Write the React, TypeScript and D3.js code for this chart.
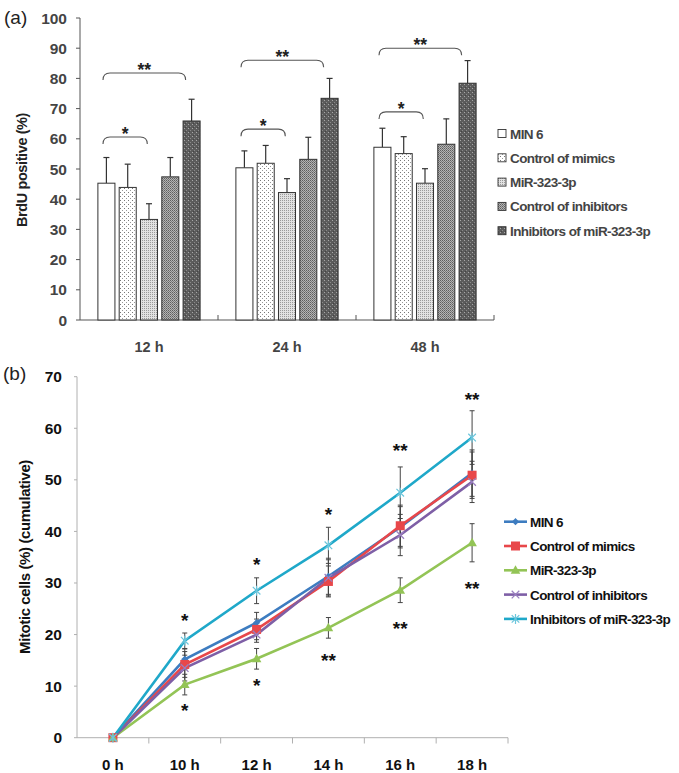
import React from 'react';
import * as d3 from 'd3';

// ---------- Panel (a) data ----------
const groupsA = ['12 h', '24 h', '48 h'];
const seriesA = ['MIN 6', 'Control of mimics', 'MiR-323-3p', 'Control of inhibitors', 'Inhibitors of miR-323-3p'];
const meansA12 = [45.3, 43.9, 33.3, 47.4, 65.9];
const meansA24 = [50.4, 51.9, 42.2, 53.2, 73.4];
const meansA48 = [57.2, 55.1, 45.3, 58.2, 78.4];
const errA12 = [8.5, 7.7, 5.2, 6.4, 7.2];
const errA24 = [5.6, 5.9, 4.6, 7.3, 6.6];
const errA48 = [6.3, 5.6, 4.8, 8.4, 7.5];
const yTicksA = [0, 10, 20, 30, 40, 50, 60, 70, 80, 90, 100];
const bracketGroups = [0, 0, 1, 1, 2, 2];
const bracketTo = [2, 4, 2, 4, 2, 4];
const bracketLevels = [60.6, 81.8, 63.2, 86, 68.9, 90];
const bracketLabels = ['*', '**', '*', '**', '*', '**'];

// ---------- Panel (b) data ----------
const timesB = ['0 h', '10 h', '12 h', '14 h', '16 h', '18 h'];
const seriesB = ['MIN 6', 'Control of mimics', 'MiR-323-3p', 'Control of inhibitors', 'Inhibitors of miR-323-3p'];
const min6B = [0, 15.2, 22.3, 31.3, 40.8, 51.3];
const mimicsB = [0, 14.2, 21.0, 30.3, 41.1, 50.9];
const mirB = [0, 10.3, 15.3, 21.3, 28.6, 37.8];
const ctrlInhB = [0, 13.5, 20.0, 31.0, 39.3, 49.6];
const inhB = [0, 18.8, 28.5, 37.3, 47.5, 58.2];
const min6ErrB = [0, 2, 2, 3.5, 4, 4.5];
const mimicsErrB = [0, 2.5, 2, 3, 4, 4.5];
const mirErrB = [0, 2, 2, 2, 2.4, 3.7];
const ctrlInhErrB = [0, 2.5, 1.5, 3.5, 4, 4];
const inhErrB = [0, 1.5, 2.5, 3.5, 5, 5.2];
const yTicksB = [0, 10, 20, 30, 40, 50, 60, 70];
const starsAboveVal = [null, 23.5, 34.3, 44, 56.4, 66.3];
const starsAboveLab = ['', '*', '*', '*', '**', '**'];
const starsBelowVal = [null, 6, 10.9, 15.8, 22, 29.7];
const starsBelowLab = ['', '*', '*', '**', '**', '**'];

const colorsB = ['#3d7cc0', '#e8474a', '#93c456', '#7e5fa6', '#1fa8c9'];
const markersB = ['diamond', 'square', 'triangle', 'x', 'asterisk'];

const FONT = '"Liberation Sans", Arial, sans-serif';

function Marker({ type, x, y, color }: { type: string; x: number; y: number; color: string }) {
  if (type === 'diamond') {
    const s = 3.6;
    return <path d={`M${x},${y - s}L${x + s},${y}L${x},${y + s}L${x - s},${y}Z`} fill={color} />;
  }
  if (type === 'square') {
    return <rect x={x - 4.5} y={y - 4.5} width={9} height={9} fill={color} />;
  }
  if (type === 'triangle') {
    return <path d={`M${x},${y - 5}L${x + 4.8},${y + 3.5}L${x - 4.8},${y + 3.5}Z`} fill={color} />;
  }
  if (type === 'x') {
    const s = 3.8;
    return <path d={`M${x - s},${y - s}L${x + s},${y + s}M${x - s},${y + s}L${x + s},${y - s}`} stroke={color} strokeWidth={1.3} />;
  }
  const s = 3.8;
  return (
    <path d={`M${x - s},${y - s}L${x + s},${y + s}M${x - s},${y + s}L${x + s},${y - s}M${x},${y - 5}L${x},${y + 5}`} stroke={color} strokeWidth={1.2} />
  );
}

export default function App() {
  const meansA = [meansA12, meansA24, meansA48];
  const errA = [errA12, errA24, errA48];
  const xA = d3.scaleBand<string>().domain(groupsA).range([80, 494]).paddingInner(0).paddingOuter(0);
  const xAi = d3.scaleBand<string>().domain(seriesA).range([0, xA.bandwidth()]).paddingInner(0.2).paddingOuter(0.84);
  const yA = d3.scaleLinear().domain([0, 100]).range([320, 18]);
  const bw = xAi.bandwidth();
  const fillsA = ['#ffffff', 'url(#pDots)', 'url(#pLight)', 'url(#pMid)', 'url(#pDark)'];

  const xB = d3.scaleBand<string>().domain(timesB).range([77, 508]).padding(0);
  const yB = d3.scaleLinear().domain([0, 70]).range([737.7, 376.7]);
  const cx = (t: string) => (xB(t) as number) + xB.bandwidth() / 2;
  const dataB = [min6B, mimicsB, mirB, ctrlInhB, inhB];
  const errB = [min6ErrB, mimicsErrB, mirErrB, ctrlInhErrB, inhErrB];
  const line = d3.line<number>().x((_, i) => cx(timesB[i])).y((d) => yB(d));

  const gray = '#444';

  return (
    <svg width={679} height={773} style={{ position: 'absolute', left: 0, top: 0, background: '#fff' }} fontFamily={FONT}>
      <defs>
        <pattern id="pDots" width={4} height={4} patternUnits="userSpaceOnUse">
          <rect width={4} height={4} fill="#fff" />
          <rect x={0} y={0} width={1} height={1} fill="#777" />
          <rect x={2} y={2} width={1} height={1} fill="#999" />
        </pattern>
        <pattern id="pLight" width={2} height={2} patternUnits="userSpaceOnUse">
          <rect width={2} height={2} fill="#e2e2e2" />
          <rect x={0} y={0} width={1} height={1} fill="#9a9a9a" />
        </pattern>
        <pattern id="pMid" width={2} height={2} patternUnits="userSpaceOnUse">
          <rect width={2} height={2} fill="#b4b4b4" />
          <rect x={0} y={0} width={1} height={1} fill="#5e5e5e" />
          <rect x={1} y={1} width={1} height={1} fill="#7a7a7a" />
        </pattern>
        <pattern id="pDark" width={4} height={4} patternUnits="userSpaceOnUse">
          <rect width={4} height={4} fill="#5c5c5c" />
          <rect x={0} y={0} width={1} height={1} fill="#a8a8a8" />
          <rect x={2} y={2} width={1} height={1} fill="#8a8a8a" />
          <rect x={1} y={3} width={1} height={1} fill="#444" />
        </pattern>
      </defs>

      {/* ================= Panel (a) ================= */}
      <text x={4} y={24} fontSize={19} fill="#222">(a)</text>
      <line x1={80} y1={18} x2={80} y2={320} stroke="#555" strokeWidth={1} />
      <line x1={80} y1={320} x2={494} y2={320} stroke="#555" strokeWidth={1} />
      {yTicksA.map((t) => (
        <g key={'ya' + t}>
          <line x1={76} x2={80} y1={yA(t)} y2={yA(t)} stroke="#555" />
          <text x={67} y={yA(t) + 5.5} textAnchor="end" fontSize={15.5} fontWeight="bold" fill={gray}>{t}</text>
        </g>
      ))}
      {groupsA.map((g) => (
        <g key={'xa' + g}>
          <line x1={(xA(g) as number) + xA.bandwidth()} x2={(xA(g) as number) + xA.bandwidth()} y1={315} y2={320} stroke="#555" />
          <text x={(xA(g) as number) + xA.bandwidth() / 2} y={352} textAnchor="middle" fontSize={14.5} fontWeight="bold" fill={gray}>{g}</text>
        </g>
      ))}
      <text transform={`translate(27,170) rotate(-90)`} textAnchor="middle" fontSize={14.5} fontWeight="bold" fill="#222" letterSpacing={-0.4}>BrdU positive (%)</text>
      {groupsA.map((g, gi) => (
        <g key={'bars' + g}>
          {seriesA.map((s, si) => {
            const x = (xA(g) as number) + (xAi(s) as number);
            const v = meansA[gi][si];
            const e = errA[gi][si];
            const xc = x + bw / 2;
            return (
              <g key={s}>
                <line x1={xc} x2={xc} y1={yA(v)} y2={yA(v + e)} stroke="#333" strokeWidth={1.2} />
                <line x1={xc - 3} x2={xc + 3} y1={yA(v + e)} y2={yA(v + e)} stroke="#333" strokeWidth={1.2} />
                <rect x={x} y={yA(v)} width={bw} height={yA(0) - yA(v)} fill={fillsA[si]} stroke="#333" strokeWidth={1} />
              </g>
            );
          })}
        </g>
      ))}
      {bracketLevels.map((lv, i) => {
        const g = groupsA[bracketGroups[i]];
        const x1 = (xA(g) as number) + (xAi(seriesA[0]) as number) + bw * 0.3;
        const toS = seriesA[bracketTo[i]];
        const x2 = (xA(g) as number) + (xAi(toS) as number) + (bracketTo[i] === 4 ? bw * 0.15 : bw * 0.4);
        const y = yA(lv);
        const d = `M${x1},${y + 7} Q${x1},${y} ${x1 + 7},${y} L${x2 - 7},${y} Q${x2},${y} ${x2},${y + 7}`;
        return (
          <g key={'br' + i}>
            <path d={d} fill="none" stroke="#555" strokeWidth={1.1} />
            <text x={(x1 + x2) / 2} y={y + 3} textAnchor="middle" fontSize={17.5} fontWeight="bold" fill="#222">{bracketLabels[i]}</text>
          </g>
        );
      })}
      {seriesA.map((s, i) => {
        const y = 134 + i * 24.3;
        return (
          <g key={'la' + s}>
            <rect x={498} y={y - 4.5} width={8} height={8} fill={fillsA[i]} stroke="#333" strokeWidth={0.9} />
            <text x={510} y={y + 4.5} fontSize={13.5} fontWeight="bold" fill={gray} letterSpacing={-0.6}>{s}</text>
          </g>
        );
      })}

      {/* ================= Panel (b) ================= */}
      <text x={3} y={380} fontSize={19} fill="#222">(b)</text>
      <line x1={77} y1={376.7} x2={77} y2={737.7} stroke="#b0b0b0" strokeWidth={1} />
      <line x1={77} y1={737.7} x2={508} y2={737.7} stroke="#b0b0b0" strokeWidth={1} />
      {yTicksB.map((t) => (
        <g key={'yb' + t}>
          <line x1={74} x2={77} y1={yB(t)} y2={yB(t)} stroke="#b0b0b0" />
          <text x={62} y={yB(t) + 5.5} textAnchor="end" fontSize={15.5} fontWeight="bold" fill="#111">{t}</text>
        </g>
      ))}
      {timesB.map((t) => (
        <g key={'xb' + t}>
          <line x1={(xB(t) as number) + xB.bandwidth()} x2={(xB(t) as number) + xB.bandwidth()} y1={737.7} y2={743.5} stroke="#b0b0b0" />
          <text x={cx(t)} y={770} textAnchor="middle" fontSize={15} fontWeight="bold" fill="#111">{t}</text>
        </g>
      ))}
      <text transform={`translate(30,557) rotate(-90)`} textAnchor="middle" fontSize={15} fontWeight="bold" fill="#111" letterSpacing={-0.4}>Mitotic cells  (%) (cumulative)</text>

      {dataB.map((ser, si) => (
        <g key={'eb' + si}>
          {ser.map((v, i) => {
            const e = errB[si][i];
            if (!e) return null;
            const x = cx(timesB[i]);
            return (
              <g key={i}>
                <line x1={x} x2={x} y1={yB(v - e)} y2={yB(v + e)} stroke="#444" strokeWidth={1} />
                <line x1={x - 2.5} x2={x + 2.5} y1={yB(v - e)} y2={yB(v - e)} stroke="#444" strokeWidth={1} />
                <line x1={x - 2.5} x2={x + 2.5} y1={yB(v + e)} y2={yB(v + e)} stroke="#444" strokeWidth={1} />
              </g>
            );
          })}
        </g>
      ))}
      {dataB.map((ser, si) => (
        <path key={'ln' + si} d={line(ser) as string} fill="none" stroke={colorsB[si]} strokeWidth={2.6} />
      ))}
      {dataB.map((ser, si) => (
        <g key={'mk' + si}>
          {ser.map((v, i) => (
            <Marker key={i} type={markersB[si]} x={cx(timesB[i])} y={yB(v)} color={si === 4 ? '#6cc6dc' : si === 3 ? '#9a7fc0' : colorsB[si]} />
          ))}
        </g>
      ))}
      {timesB.map((t, i) => (
        <g key={'st' + t}>
          {starsAboveVal[i] !== null && (
            <text x={cx(t)} y={yB(starsAboveVal[i] as number) + 10.5} textAnchor="middle" fontSize={19} fontWeight="bold" fill="#111">{starsAboveLab[i]}</text>
          )}
          {starsBelowVal[i] !== null && (
            <text x={cx(t)} y={yB(starsBelowVal[i] as number) + 10.5} textAnchor="middle" fontSize={19} fontWeight="bold" fill="#111">{starsBelowLab[i]}</text>
          )}
        </g>
      ))}
      {seriesB.map((s, i) => {
        const y = 521.7 + i * 24.3;
        return (
          <g key={'lb' + s}>
            <line x1={504} x2={527} y1={y} y2={y} stroke={colorsB[i]} strokeWidth={2.6} />
            <Marker type={markersB[i]} x={515.5} y={y} color={i === 4 ? '#6cc6dc' : i === 3 ? '#9a7fc0' : colorsB[i]} />
            <text x={530} y={y + 5} fontSize={13.5} fontWeight="bold" fill="#111" letterSpacing={-0.6}>{s}</text>
          </g>
        );
      })}
    </svg>
  );
}
